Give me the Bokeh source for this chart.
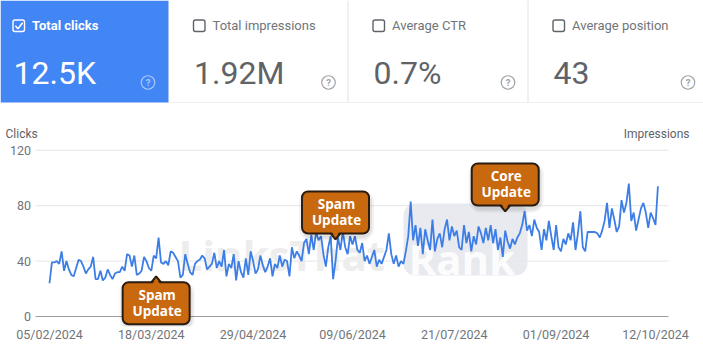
import pandas as pd
from bokeh.plotting import figure
from bokeh.models import Range1d, FixedTicker, DatetimeTickFormatter, ColumnDataSource
from bokeh.layouts import column
from bokeh.embed import file_html
from bokeh.resources import INLINE
from bokeh.core.properties import value

# ---------------- data ----------------
start_date = "2024-02-05"
clicks = [
    24, 39, 39, 40, 38, 47, 33,
    40, 34, 30, 29, 35, 41, 40,
    36, 31, 34, 36, 43, 27, 27,
    33, 26, 28, 34, 30, 27, 31,
    32, 32, 36, 33, 45, 44, 36,
    44, 30, 31, 33, 43, 40, 35,
    33, 44, 42, 57, 39, 38, 40,
    37, 47, 46, 43, 40, 28, 30,
    45, 38, 32, 30, 38, 40, 41,
    44, 42, 34, 36, 38, 46, 35,
    40, 36, 48, 29, 38, 35, 45,
    26, 40, 32, 28, 42, 30, 47,
    40, 31, 34, 44, 37, 32, 36,
    42, 29, 38, 35, 44, 36, 41,
    40, 29, 50, 42, 47, 44, 40,
    53, 56, 45, 59, 48, 61, 55,
    58, 45, 36, 50, 58, 27, 40,
    57, 48, 61, 50, 45, 58, 52,
    58, 48, 46, 53, 40, 44, 38,
    43, 48, 36, 41, 38, 43, 48,
    60, 45, 38, 44, 36, 40, 38,
    47, 58, 83, 55, 66, 51, 64,
    45, 63, 55, 48, 70, 47, 56,
    60, 50, 63, 70, 55, 65, 58,
    62, 50, 48, 66, 53, 61, 47,
    58, 52, 65, 60, 53, 64, 55,
    66, 53, 63, 48, 57, 43, 62,
    54, 49, 56, 52, 57, 60, 66,
    76, 62, 66, 58, 70, 64, 61,
    48, 63, 55, 69, 58, 48, 66,
    50, 47, 56, 52, 60, 55, 68,
    48, 60, 76, 50, 47, 61, 61,
    61, 61, 60, 57, 62, 69, 82,
    64, 78, 70, 61, 65, 84, 75,
    82, 96, 69, 75, 62, 70, 78,
    82, 75, 64, 75, 71, 66, 94,
]
dates = pd.date_range(start_date, periods=len(clicks), freq="D")

card_titles = ["Total clicks", "Total impressions", "Average CTR", "Average position"]
card_values = ["12.5K", "1.92M", "0.7%", "43"]
card_selected = [True, False, False, False]

y_ticks = [0, 40, 80, 120]
x_tick_dates = ["2024-02-05", "2024-03-18", "2024-04-29", "2024-06-09",
                "2024-07-21", "2024-09-01", "2024-10-12"]

event_dates = ["2024-03-20", "2024-06-02", "2024-08-11"]
event_labels = ["Spam\nUpdate", "Spam\nUpdate", "Core\nUpdate"]
event_tip_values = [29, 55.6, 75.8]
event_box_below = [True, False, False]

# ---------------- geometry helpers (page pixels <-> data) ----------------
W, H = 703, 353
CARD_H = 103
CHART_H = H - CARD_H
DAY_MS = 86400000
t0_ms = pd.Timestamp(start_date).value // 10**6
PX_PER_DAY = 2.424
PX_PER_UNIT = 1.3855
X0_PAGE = 49
Y0_PAGE = 316
GRID_L, GRID_R = 35, 668
FRAME_B = 326


def X(px):
    return t0_ms + (px - X0_PAGE) / PX_PER_DAY * DAY_MS


def Y(py):
    return (Y0_PAGE - py) / PX_PER_UNIT


def PX(ms):
    return X0_PAGE + (ms - t0_ms) / DAY_MS * PX_PER_DAY


def PY(v):
    return Y0_PAGE - v * PX_PER_UNIT


# ---------------- cards ----------------
c = figure(width=W, height=CARD_H, x_range=Range1d(0, W), y_range=Range1d(0, CARD_H),
           toolbar_location=None, output_backend="svg", min_border=0,
           x_axis_location=None, y_axis_location=None)
c.grid.visible = False
c.outline_line_color = None
c.background_fill_color = "white"
c.border_fill_color = "white"


def cy(py):
    return CARD_H - py


BLUE = "#4285f4"
card_left = [0, 168, 347.5, 527.5]
c.quad(left=[0], right=[168], top=[cy(0)], bottom=[cy(102)], fill_color=BLUE, line_color=None)
c.segment(x0=[168], y0=[cy(102.5)], x1=[W], y1=[cy(102.5)], line_color="#e2e2e2", line_width=1)
c.segment(x0=[347.5, 527.5], y0=[cy(0), cy(0)], x1=[347.5, 527.5], y1=[cy(102), cy(102)],
          line_color="#e2e2e2", line_width=1)

for i, (title, val, sel) in enumerate(zip(card_titles, card_values, card_selected)):
    left = card_left[i]
    off = 12.5 if i == 0 else left + 25
    fg = "white" if sel else "#5f6368"
    lab_col = "white" if sel else "#70757a"
    help_col = "#a9c7fb" if sel else "#9fa3a7"
    c.quad(left=[off], right=[off + 11.5], top=[cy(19.5)], bottom=[cy(31)],
           fill_color=None, line_color=fg, line_width=1.4, border_radius=2)
    if sel:
        c.line(x=[off + 2.3, off + 5.0, off + 9.6], y=[cy(25.3), cy(28.2), cy(22.2)],
               line_color="white", line_width=1.6)
    c.text(x=[off + 19], y=[cy(25)], text=[title], text_font=value("Roboto"),
           text_font_size=value("13px"), text_color=lab_col, text_baseline="middle",
           text_align="left", text_font_style="bold" if sel else "normal")
    c.text(x=[off + 0.5], y=[cy(72)], text=[val], text_font=value("Roboto"),
           text_font_size=value("32px"), text_color=fg, text_baseline="alphabetic",
           text_align="left")
    hx = off + 135
    c.scatter(x=[hx], y=[cy(82)], marker="circle", size=13.5, fill_color=None,
              line_color=help_col, line_width=1.2)
    c.text(x=[hx], y=[cy(82.3)], text=["?"], text_font=value("Roboto"),
           text_font_size=value("9.5px"), text_color=help_col, text_baseline="middle",
           text_align="center", text_font_style="bold")

# ---------------- chart ----------------
p = figure(width=W, height=CHART_H, x_axis_type="datetime",
           x_range=Range1d(X(0), X(W)), y_range=Range1d(Y(FRAME_B), Y(CARD_H)),
           toolbar_location=None, output_backend="svg", y_axis_location=None,
           min_border_left=0, min_border_right=0, min_border_top=0,
           min_border_bottom=H - FRAME_B)
p.outline_line_color = None
p.background_fill_color = "white"
p.border_fill_color = "white"
p.grid.visible = False

p.xaxis.ticker = FixedTicker(ticks=[pd.Timestamp(d).value // 10**6 for d in x_tick_dates])
fmt = "%d/%m/%Y"
p.xaxis.formatter = DatetimeTickFormatter(milliseconds=fmt, seconds=fmt, minsec=fmt, minutes=fmt,
                                          hourmin=fmt, hours=fmt, days=fmt, months=fmt, years=fmt)
p.xaxis.axis_line_color = None
p.xaxis.major_tick_line_color = None
p.xaxis.minor_tick_line_color = None
p.xaxis.major_tick_out = 0
p.xaxis.major_tick_in = 0
p.xaxis.major_label_text_font = "Roboto"
p.xaxis.major_label_text_font_size = "12.5px"
p.xaxis.major_label_text_color = "#70757a"
p.xaxis.major_label_standoff = 0

# gridlines, baseline and y tick labels
grid_vals = [t for t in y_ticks if t != 0]
p.segment(x0=[X(GRID_L)] * len(grid_vals), x1=[X(GRID_R)] * len(grid_vals),
          y0=grid_vals, y1=grid_vals, line_color="#e6e6e6", line_width=1)
p.segment(x0=[X(GRID_L)], x1=[X(GRID_R)], y0=[0], y1=[0], line_color="#9e9e9e", line_width=1.2)
p.text(x=[X(30.5)] * len(y_ticks), y=y_ticks, text=[str(t) for t in y_ticks],
       text_font=value("Roboto"), text_font_size=value("12.5px"), text_color="#70757a",
       text_baseline="middle", text_align="right")
p.text(x=[X(5)], y=[Y(133)], text=["Clicks"], text_font=value("Roboto"),
       text_font_size=value("12px"), text_color="#5f6368", text_baseline="middle",
       text_align="left")
p.text(x=[X(689)], y=[Y(133)], text=["Impressions"], text_font=value("Roboto"),
       text_font_size=value("12px"), text_color="#5f6368", text_baseline="middle",
       text_align="right")

# watermark
p.quad(left=[X(403)], right=[X(527)], top=[Y(203)], bottom=[Y(275)],
       fill_color="#e4e6ec", fill_alpha=0.85, line_color=None, border_radius=12)
p.text(x=[X(178)], y=[Y(254)], text=["LinksThat"], text_font=value("Open Sans"),
       text_font_size=value("42px"), text_font_style="bold", text_color="#ededed",
       text_baseline="alphabetic", text_align="left")
p.text(x=[X(408)], y=[Y(258)], text=["Rank"], text_font=value("Open Sans"),
       text_font_size=value("42px"), text_font_style="bold", text_color="white",
       text_alpha=0.9, text_baseline="alphabetic", text_align="left")

# clicks line
src = ColumnDataSource(dict(date=dates, clicks=clicks))
p.line(x="date", y="clicks", source=src, line_color="#3d7ee6", line_width=1.8)

# callouts
ORANGE = "#c8680f"
DARK = "#2a1c10"
BW, BH, TRI = 67, 42, 6
for d, lab, tv, below in zip(event_dates, event_labels, event_tip_values, event_box_below):
    tx = PX(pd.Timestamp(d).value // 10**6)
    ty = PY(tv)
    s = 1 if below else -1
    base = ty + s * TRI
    cyy = base + s * BH / 2
    for grow, a in ((4, 0.05), (2, 0.07)):
        p.quad(left=[X(tx - BW / 2 - grow + 1)], right=[X(tx + BW / 2 + grow + 1)],
               top=[Y(cyy - BH / 2 - grow + 3)], bottom=[Y(cyy + BH / 2 + grow + 3)],
               fill_color="black", fill_alpha=a, line_color=None, border_radius=8 + grow)
    p.patch(x=[X(tx), X(tx - 6.5), X(tx + 6.5)], y=[Y(ty), Y(base + s * 2), Y(base + s * 2)],
            fill_color=ORANGE, line_color=DARK, line_width=2)
    p.quad(left=[X(tx - BW / 2)], right=[X(tx + BW / 2)], top=[Y(cyy - BH / 2)],
           bottom=[Y(cyy + BH / 2)], fill_color=ORANGE, line_color=DARK, line_width=2,
           border_radius=6)
    p.patch(x=[X(tx), X(tx - 4.6), X(tx + 4.6)],
            y=[Y(ty + s * 2.6), Y(base + s * 2.5), Y(base + s * 2.5)],
            fill_color=ORANGE, line_color=None)
    lines = lab.split("\n")
    p.text(x=[X(tx + 1)] * len(lines), y=[Y(cyy - 8), Y(cyy + 8)][:len(lines)], text=lines,
           text_font=value("Open Sans"), text_font_size=value("13.5px"),
           text_font_style="bold", text_color="white",
           text_baseline="middle", text_align="center")

layout = column(c, p, spacing=0)
open("out.html", "w").write(file_html(layout, INLINE))
